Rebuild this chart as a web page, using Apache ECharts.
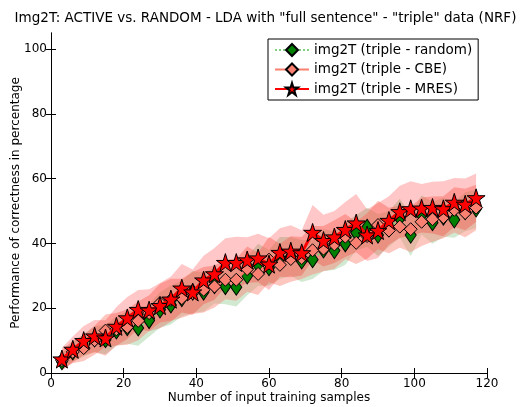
<!DOCTYPE html>
<html>
<head>
<meta charset="utf-8">
<script src="https://cdn.jsdelivr.net/npm/echarts@6/dist/echarts.min.js"></script>
<style>
  html, body { margin: 0; padding: 0; background: #fff; }
  #main { width: 531px; height: 407px; }
</style>
</head>
<body>
<div id="main"></div>
<script>
// number of training samples
const samples = [3, 6, 9, 12, 15, 18, 21, 24, 27, 30, 33, 36, 39, 42, 45, 48, 51, 54, 57, 60,
  63, 66, 69, 72, 75, 78, 81, 84, 87, 90, 93, 96, 99, 102, 105, 108, 111, 114, 117];

// mean performance (%)
const randomMean = [3.5, 6.5, 8.5, 10.5, 10.3, 13.0, 14.0, 13.9, 16.2, 19.5, 21.0, 23.0, 25.0, 25.0, 27.0, 26.7, 26.5, 30.0, 33.4, 32.5,
  35.5, 36.0, 34.6, 35.0, 38.0, 37.8, 39.9, 43.3, 45.0, 42.6, 44.5, 47.8, 42.6, 48.8, 46.4, 48.1, 47.3, 49.8, 50.7];
const cbeMean = [4.0, 6.5, 7.7, 10.1, 13.1, 13.5, 14.2, 16.1, 18.5, 21.6, 22.6, 23.1, 24.7, 25.7, 26.7, 28.8, 28.8, 32.1, 30.6, 35.0,
  33.4, 35.2, 35.5, 37.9, 38.4, 39.7, 42.1, 40.2, 42.3, 45.7, 44.0, 45.2, 44.4, 46.7, 47.5, 48.1, 50.4, 49.4, 51.1];
const mresMean = [4.3, 7.3, 10.0, 11.4, 10.8, 14.4, 17.0, 19.6, 19.4, 20.8, 22.8, 26.2, 25.0, 28.7, 30.6, 34.1, 34.1, 34.9, 35.5, 33.6,
  37.2, 37.6, 37.1, 43.4, 40.9, 42.0, 44.3, 46.3, 42.6, 44.0, 47.1, 49.8, 50.7, 50.9, 51.1, 50.7, 52.7, 52.1, 54.1];

// standard deviation (%)
const randomStd = [2.5, 3.0, 3.5, 4.0, 4.5, 4.5, 5.0, 5.5, 5.0, 5.5, 6.0, 5.5, 6.5, 6.0, 5.5, 5.5, 6.0, 6.0, 6.5, 5.5,
  6.5, 6.0, 6.5, 6.0, 6.5, 6.0, 6.5, 5.5, 6.0, 6.5, 5.5, 6.0, 6.5, 6.0, 6.5, 6.0, 5.5, 6.0, 6.0];
const cbeStd = [3.0, 3.5, 4.0, 4.5, 5.0, 5.0, 5.5, 6.0, 5.5, 6.0, 6.5, 6.0, 6.5, 7.0, 6.5, 6.0, 6.5, 7.0, 6.5, 7.0,
  6.5, 7.0, 6.5, 7.5, 7.0, 7.5, 7.0, 6.5, 7.0, 7.5, 7.0, 6.5, 7.0, 7.5, 7.0, 6.5, 7.0, 7.5, 7.0];
const mresStd = [3.5, 4.0, 4.5, 5.0, 5.5, 6.0, 6.5, 6.0, 6.5, 7.0, 7.0, 7.5, 7.0, 7.5, 8.0, 7.5, 8.0, 7.0, 7.5, 8.0,
  7.5, 8.0, 7.0, 8.5, 8.0, 8.0, 8.5, 9.0, 8.0, 8.5, 7.5, 8.0, 8.5, 7.5, 8.0, 8.5, 7.5, 8.0, 7.5];

const xTicks = [0, 20, 40, 60, 80, 100, 120];
const yTicks = [0, 20, 40, 60, 80, 100];

const starPath = 'path://M0,-10L2.245,-3.09L9.51,-3.09L3.633,1.18L5.878,8.09L0,3.82L-5.878,8.09L-3.633,1.18L-9.51,-3.09L-2.245,-3.09Z';
const font = 'DejaVu Sans';

function pairs(ys) {
  return samples.map((x, i) => [x, ys[i]]);
}

// mean +/- std drawn as one filled polygon
function band(id, mean, std, color) {
  return {
    name: id + '-band', type: 'custom', silent: true, z: 1,
    data: [0],
    renderItem: function (params, api) {
      if (params.dataIndex !== 0) return;
      const upper = samples.map((x, i) => api.coord([x, mean[i] + std[i]]));
      const lower = samples.map((x, i) => api.coord([x, mean[i] - std[i]])).reverse();
      return {
        type: 'polygon',
        shape: { points: upper.concat(lower) },
        style: { fill: color, stroke: 'none' }
      };
    }
  };
}

const axisLine = { show: true, lineStyle: { color: '#000', width: 1 } };

const option = {
  animation: false,
  backgroundColor: '#fff',
  textStyle: { fontFamily: font },
  title: {
    text: 'Img2T: ACTIVE vs. RANDOM - LDA with "full sentence" - "triple" data (NRF)',
    left: 'center', top: 6,
    textStyle: { fontFamily: font, fontSize: 13.5, fontWeight: 'normal', color: '#000' }
  },
  grid: { left: 51, right: 44, top: 33, bottom: 34, outerBoundsMode: 'none', containLabel: false },
  legend: {
    orient: 'vertical', left: 268, top: 39,
    data: ['img2T (triple - random)', 'img2T (triple - CBE)', 'img2T (triple - MRES)'],
    backgroundColor: '#fff', borderColor: '#000', borderWidth: 1, borderRadius: 0,
    padding: [4, 6, 4, 6], itemGap: 5.5, itemWidth: 34, itemHeight: 15,
    textStyle: { fontFamily: font, fontSize: 13.5, color: '#000' }
  },
  xAxis: [
    {
      type: 'value', min: 0, max: 120, interval: 20,
      name: 'Number of input training samples', nameLocation: 'middle', nameGap: 19,
      nameMoveOverlap: false,
      nameTextStyle: { fontFamily: font, fontSize: 12, color: '#000' },
      axisLine: axisLine, splitLine: { show: false },
      axisTick: { show: true, inside: true, length: 5, lineStyle: { color: '#000' } },
      axisLabel: { fontFamily: font, fontSize: 12, color: '#000', margin: 5 }
    },
    {
      type: 'value', min: 0, max: 120, interval: 20, position: 'top',
      axisLine: axisLine, splitLine: { show: false },
      axisTick: { show: true, inside: true, length: 5, lineStyle: { color: '#000' } },
      axisLabel: { show: false }
    }
  ],
  yAxis: [
    {
      type: 'value', min: 0, max: 105,
      name: 'Performance of correctness in percentage', nameLocation: 'middle', nameGap: 29,
      nameMoveOverlap: false,
      nameTextStyle: { fontFamily: font, fontSize: 12, color: '#000' },
      axisLine: axisLine, splitLine: { show: false },
      axisTick: { show: true, inside: true, length: 5, customValues: yTicks, lineStyle: { color: '#000' } },
      axisLabel: { fontFamily: font, fontSize: 12, color: '#000', margin: 4, customValues: yTicks }
    },
    {
      type: 'value', min: 0, max: 105, position: 'right',
      axisLine: axisLine, splitLine: { show: false },
      axisTick: { show: true, inside: true, length: 5, customValues: yTicks, lineStyle: { color: '#000' } },
      axisLabel: { show: false }
    }
  ],
  series: [
    band('random', randomMean, randomStd, 'rgba(0,128,0,0.18)'),
    band('cbe', cbeMean, cbeStd, 'rgba(250,128,114,0.45)'),
    band('mres', mresMean, mresStd, 'rgba(255,0,0,0.22)'),
    {
      name: 'img2T (triple - random)', type: 'line', data: pairs(randomMean), z: 3,
      symbol: 'diamond', symbolSize: [11, 16], showAllSymbol: true,
      itemStyle: { color: '#008000', borderColor: '#000', borderWidth: 1 },
      lineStyle: { color: '#7fd27f', width: 2, type: 'dotted' }
    },
    {
      name: 'img2T (triple - CBE)', type: 'line', data: pairs(cbeMean), z: 4,
      symbol: 'diamond', symbolSize: [13, 13], showAllSymbol: true,
      itemStyle: { color: '#fa8072', borderColor: '#000', borderWidth: 1 },
      lineStyle: { color: '#fa8072', width: 2 }
    },
    {
      name: 'img2T (triple - MRES)', type: 'line', data: pairs(mresMean), z: 5,
      symbol: starPath, symbolSize: 18, showAllSymbol: true,
      itemStyle: { color: '#ff0000', borderColor: '#000', borderWidth: 1 },
      lineStyle: { color: '#ff0000', width: 3 }
    }
  ]
};

const chart = echarts.init(document.getElementById('main'));
chart.setOption(option);
</script>
</body>
</html>
